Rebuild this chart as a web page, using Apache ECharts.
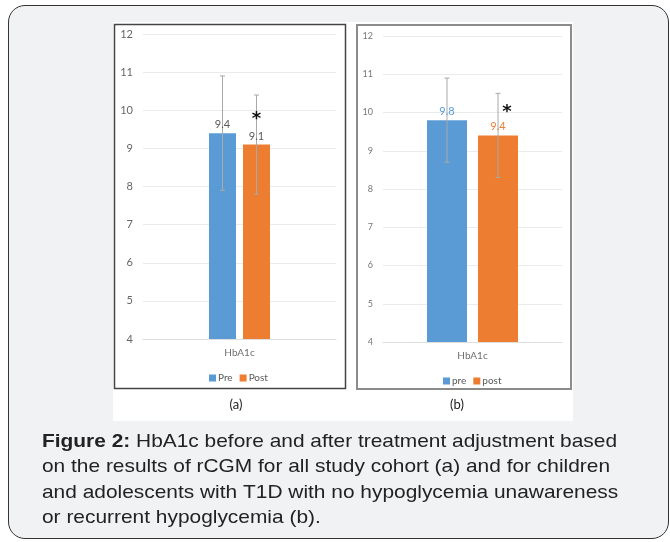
<!DOCTYPE html>
<html><head><meta charset="utf-8">
<script src="https://cdn.jsdelivr.net/npm/echarts@6/dist/echarts.min.js"></script>
<style>
html,body{margin:0;padding:0;background:#fff;}
#frame{position:absolute;left:8px;top:5px;width:659px;height:532px;border:1.5px solid #333;border-radius:17px;background:#f1f2f4;}
#white{position:absolute;left:113px;top:22px;width:460px;height:399px;background:#fff;}
#c{position:absolute;left:0;top:0;width:670px;height:542px;}
</style>
</head><body>
<div id="frame"></div><div id="white"></div>
<div id="c"></div>
<script>
// ---- data ----
const categories = ['HbA1c'];
const namesA = ['Pre', 'Post'];
const namesB = ['pre', 'post'];
const meanA = [9.4, 9.1];
const lowA = [7.9, 7.8];
const highA = [10.9, 10.4];
const meanB = [9.8, 9.4];
const lowB = [8.7, 8.3];
const highB = [10.9, 10.5];
const starA = [9.76];   // y position (value) of significance asterisk, panel a
const starB = [10.0];   // panel b
const yMin = 4, yMax = 12, yStep = 1;
const panelLabels = ['(a)', '(b)'];
const captionBold = 'Figure 2:';
const captionLines = [
  ' HbA1c before and after treatment adjustment based',
  'on the results of rCGM for all study cohort (a) and for children',
  'and adolescents with T1D with no hypoglycemia unawareness',
  'or recurrent hypoglycemia (b).'
];

// ---- styles ----
const BLUE = '#5b9bd5', ORANGE = '#ed7d31';
const FONT = 'Lato, "Open Sans", sans-serif';
const CAPFONT = '"Liberation Sans", Arial, sans-serif';
const chart = echarts.init(document.getElementById('c'), null, {renderer: 'canvas'});

// error bars + value labels (labels drawn above the error lines)
function errRender(bw, gap, cap, labelColors) {
  return function (params, api) {
    const cat = api.value(0), s = api.value(1), lo = api.value(2), hi = api.value(3), m = api.value(4);
    const pLo = api.coord([cat, lo]), pHi = api.coord([cat, hi]), pM = api.coord([cat, m]);
    const x = pLo[0] + (s - 0.5) * (bw + gap);
    const st = {stroke: '#a9a9a9', lineWidth: 1};
    return {type: 'group', children: [
      {type: 'line', shape: {x1: x, y1: pHi[1], x2: x, y2: pLo[1]}, style: st},
      {type: 'line', shape: {x1: x - cap, y1: pHi[1], x2: x + cap, y2: pHi[1]}, style: st},
      {type: 'line', shape: {x1: x - cap, y1: pLo[1], x2: x + cap, y2: pLo[1]}, style: st},
      {type: 'text', x: x, y: pM[1] - 3, z2: 10,
        style: {text: String(m), font: '11px ' + FONT, fill: labelColors[s], align: 'center', verticalAlign: 'bottom'}}
    ]};
  };
}
function starRender(dx) {
  return function (params, api) {
    const p = api.coord([api.value(0), api.value(1)]);
    return {type: 'text', x: p[0] + dx, y: p[1],
      style: {text: '*', font: 'bold 18px "DejaVu Sans", sans-serif', fill: '#111', align: 'center', verticalAlign: 'middle'}};
  };
}

const bwA = 27, gapA = 7, bwB = 40, gapB = 11;

function yAxis(idx, fs, color) {
  return {type: 'value', gridIndex: idx, min: yMin, max: yMax, interval: yStep,
    axisLine: {show: false}, axisTick: {show: false},
    axisLabel: {fontSize: fs, color: color, fontFamily: FONT, margin: 10},
    splitLine: {lineStyle: {color: '#ebebeb', width: 1}}};
}
function xAxis(idx) {
  return {type: 'category', gridIndex: idx, data: categories,
    axisLine: {lineStyle: {color: '#dedede'}}, axisTick: {show: false},
    axisLabel: {fontSize: 10, color: '#6f6f6f', fontFamily: FONT, margin: 9}};
}
function capLine(i, y) {
  return {type: 'text', x: 42, y: y, scaleX: 1.1,
    style: {text: i === 0 ? '{b|' + captionBold + '}' + captionLines[0] : captionLines[i],
      font: '19px ' + CAPFONT, fill: '#222', verticalAlign: 'middle',
      rich: {b: {fontWeight: 'bold', fontSize: 19, fontFamily: CAPFONT, fill: '#222'}}}};
}

const option = {
  backgroundColor: 'transparent',
  animation: false,
  grid: [
    {left: 143, top: 34, width: 193, height: 305},
    {left: 383, top: 36, width: 179, height: 306}
  ],
  xAxis: [xAxis(0), xAxis(1)],
  yAxis: [yAxis(0, 11, '#666'), yAxis(1, 9, '#777')],
  legend: [
    {data: namesA, left: 204, top: 368, itemWidth: 7, itemHeight: 7, itemGap: 7,
      icon: 'rect', textStyle: {fontSize: 10, color: '#595959', fontFamily: FONT, padding: [0, 0, 0, -3]}},
    {data: namesB, left: 438, top: 371, itemWidth: 7, itemHeight: 7, itemGap: 7,
      icon: 'rect', textStyle: {fontSize: 10, color: '#595959', fontFamily: FONT, padding: [0, 0, 0, -3]}}
  ],
  series: [
    {name: namesA[0], type: 'bar', xAxisIndex: 0, yAxisIndex: 0, data: [meanA[0]],
      barWidth: bwA, barGap: (gapA / bwA * 100) + '%', itemStyle: {color: BLUE}},
    {name: namesA[1], type: 'bar', xAxisIndex: 0, yAxisIndex: 0, data: [meanA[1]],
      barWidth: bwA, barGap: (gapA / bwA * 100) + '%', itemStyle: {color: ORANGE}},
    {type: 'custom', xAxisIndex: 0, yAxisIndex: 0, z: 5, silent: true,
      renderItem: errRender(bwA, gapA, 2.5, ['#595959', '#595959']),
      data: meanA.map((v, i) => [0, i, lowA[i], highA[i], v])},
    {type: 'custom', xAxisIndex: 0, yAxisIndex: 0, z: 6, silent: true,
      renderItem: starRender((bwA + gapA) / 2),
      data: starA.map(v => [0, v])},

    {name: namesB[0], type: 'bar', xAxisIndex: 1, yAxisIndex: 1, data: [meanB[0]],
      barWidth: bwB, barGap: (gapB / bwB * 100) + '%', itemStyle: {color: BLUE}},
    {name: namesB[1], type: 'bar', xAxisIndex: 1, yAxisIndex: 1, data: [meanB[1]],
      barWidth: bwB, barGap: (gapB / bwB * 100) + '%', itemStyle: {color: ORANGE}},
    {type: 'custom', xAxisIndex: 1, yAxisIndex: 1, z: 5, silent: true,
      renderItem: errRender(bwB, gapB, 2.5, [BLUE, ORANGE]),
      data: meanB.map((v, i) => [0, i, lowB[i], highB[i], v])},
    {type: 'custom', xAxisIndex: 1, yAxisIndex: 1, z: 6, silent: true,
      renderItem: starRender((bwB + gapB) / 2 + 9),
      data: starB.map(v => [0, v])}
  ],
  graphic: [
    {type: 'rect', shape: {x: 114.5, y: 24.5, width: 231, height: 364}, style: {fill: 'none', stroke: '#444', lineWidth: 1.5}},
    {type: 'rect', shape: {x: 357, y: 25, width: 214, height: 364}, style: {fill: 'none', stroke: '#8c8c8c', lineWidth: 2}},
    {type: 'text', x: 236, y: 405, style: {text: panelLabels[0], font: '13px ' + FONT, fill: '#222', align: 'center', verticalAlign: 'middle'}},
    {type: 'text', x: 457, y: 405, style: {text: panelLabels[1], font: '13px ' + FONT, fill: '#222', align: 'center', verticalAlign: 'middle'}},
    capLine(0, 442), capLine(1, 467), capLine(2, 493), capLine(3, 518)
  ]
};
chart.setOption(option);
</script>
</body></html>
